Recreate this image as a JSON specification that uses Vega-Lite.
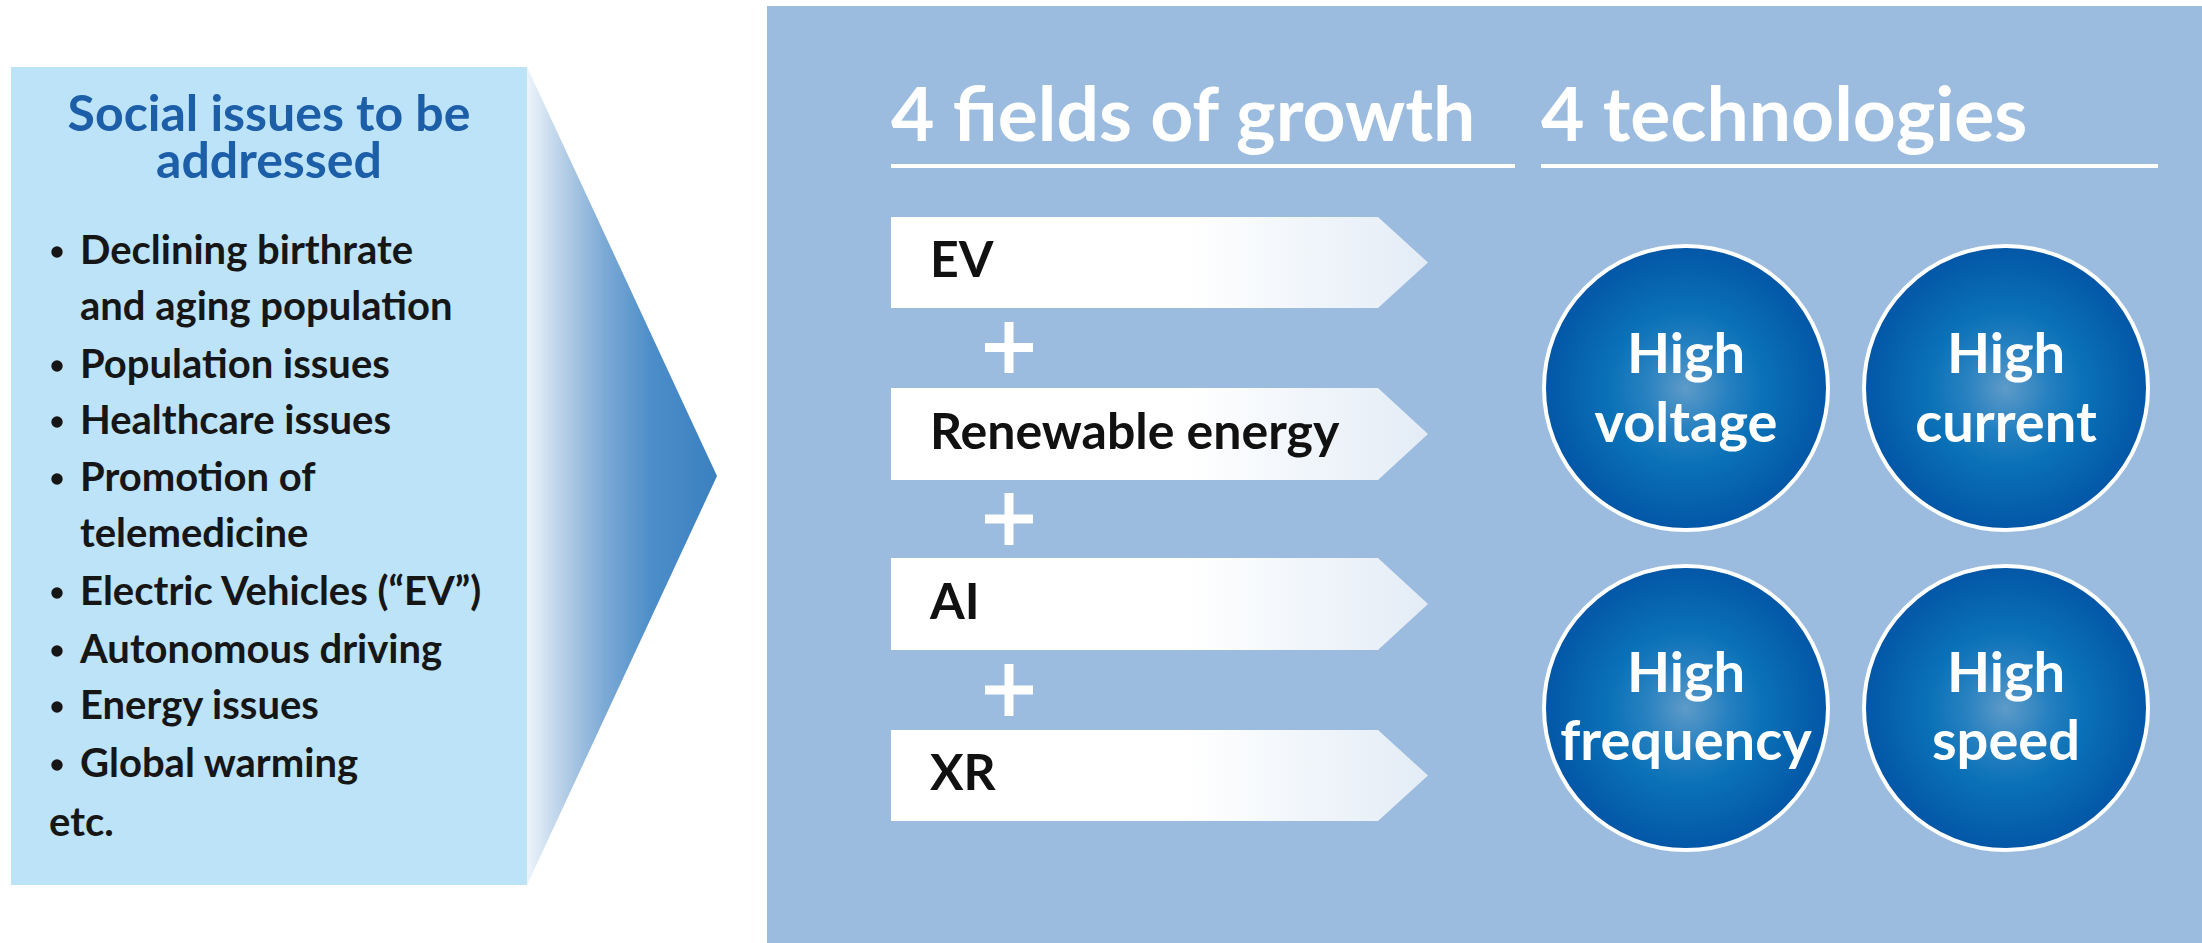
{
  "$schema": "https://vega.github.io/schema/vega-lite/v6.json",
  "width": 2202,
  "height": 943,
  "autosize": {"type": "fit", "contains": "padding"},
  "padding": 0,
  "background": "white",
  "config": {"view": {"stroke": null}, "text": {"font": "Lato", "fontWeight": "bold", "baseline": "alphabetic"}},
  "layer": [
    {
      "data": {"values": [{"part": "panel", "x": 767, "x2": 2202, "y": 6, "y2": 943}]},
      "mark": {"type": "rect", "color": "#9bbcde"},
      "encoding": {
        "x": {"field": "x", "type": "quantitative", "scale": {"domain": [0, 2202], "nice": false, "zero": false}, "axis": null},
        "x2": {"field": "x2"},
        "y": {"field": "y", "type": "quantitative", "scale": {"domain": [0, 943], "nice": false, "zero": false, "reverse": true}, "axis": null},
        "y2": {"field": "y2"}
      }
    },
    {
      "data": {"values": [{"part": "issues box", "x": 11, "x2": 527, "y": 67, "y2": 885}]},
      "mark": {"type": "rect", "color": "#bde3f8"},
      "encoding": {
        "x": {"field": "x", "type": "quantitative", "axis": null},
        "x2": {"field": "x2"},
        "y": {"field": "y", "type": "quantitative", "axis": null},
        "y2": {"field": "y2"}
      }
    },
    {
      "data": {"values": [
        {"part": "arrow", "x": 527, "y": 67, "y2": 885},
        {"part": "arrow", "x": 717, "y": 476, "y2": 476}
      ]},
      "mark": {"type": "area", "orient": "vertical", "opacity": 1, "fill": {"gradient": "linear", "x1": 0, "y1": 0, "x2": 1, "y2": 0, "stops": [
        {"offset": 0, "color": "#eef4fb"},
        {"offset": 0.2, "color": "#b3cde6"},
        {"offset": 0.4, "color": "#7eabd6"},
        {"offset": 0.65, "color": "#4d8ec9"},
        {"offset": 1, "color": "#3a80c0"}
      ]}},
      "encoding": {
        "x": {"field": "x", "type": "quantitative", "axis": null},
        "y": {"field": "y", "type": "quantitative", "axis": null},
        "y2": {"field": "y2"}
      }
    },
    {
      "data": {"values": [
        {"box": "EV", "x": 891, "y": 217, "y2": 308},
        {"box": "EV", "x": 1378, "y": 217, "y2": 308},
        {"box": "EV", "x": 1428, "y": 262.5, "y2": 262.5},
        {"box": "Renewable energy", "x": 891, "y": 388, "y2": 480},
        {"box": "Renewable energy", "x": 1378, "y": 388, "y2": 480},
        {"box": "Renewable energy", "x": 1428, "y": 434, "y2": 434},
        {"box": "AI", "x": 891, "y": 558, "y2": 650},
        {"box": "AI", "x": 1378, "y": 558, "y2": 650},
        {"box": "AI", "x": 1428, "y": 604, "y2": 604},
        {"box": "XR", "x": 891, "y": 730, "y2": 821},
        {"box": "XR", "x": 1378, "y": 730, "y2": 821},
        {"box": "XR", "x": 1428, "y": 775.5, "y2": 775.5}
      ]},
      "mark": {"type": "area", "orient": "vertical", "opacity": 1, "fill": {"gradient": "linear", "x1": 0, "y1": 0, "x2": 1, "y2": 0, "stops": [
        {"offset": 0, "color": "#ffffff"},
        {"offset": 0.55, "color": "#ffffff"},
        {"offset": 1, "color": "#e3ecf6"}
      ]}},
      "encoding": {
        "x": {"field": "x", "type": "quantitative", "axis": null},
        "y": {"field": "y", "type": "quantitative", "axis": null},
        "y2": {"field": "y2"},
        "detail": {"field": "box", "type": "nominal"}
      }
    },
    {
      "data": {"values": [
        {"seg": "plus1 v", "x": 1009, "x2": 1009, "y": 322, "y2": 373},
        {"seg": "plus1 h", "x": 985, "x2": 1033, "y": 347.5, "y2": 347.5},
        {"seg": "plus2 v", "x": 1009, "x2": 1009, "y": 493, "y2": 545},
        {"seg": "plus2 h", "x": 985, "x2": 1033, "y": 519, "y2": 519},
        {"seg": "plus3 v", "x": 1009, "x2": 1009, "y": 664, "y2": 716},
        {"seg": "plus3 h", "x": 985, "x2": 1033, "y": 690, "y2": 690}
      ]},
      "mark": {"type": "rule", "color": "white", "strokeWidth": 9},
      "encoding": {
        "x": {"field": "x", "type": "quantitative", "axis": null},
        "x2": {"field": "x2"},
        "y": {"field": "y", "type": "quantitative", "axis": null},
        "y2": {"field": "y2"}
      }
    },
    {
      "data": {"values": [
        {"seg": "underline fields", "x": 891, "x2": 1515, "y": 166, "y2": 166},
        {"seg": "underline technologies", "x": 1541, "x2": 2158, "y": 166, "y2": 166}
      ]},
      "mark": {"type": "rule", "color": "white", "strokeWidth": 4},
      "encoding": {
        "x": {"field": "x", "type": "quantitative", "axis": null},
        "x2": {"field": "x2"},
        "y": {"field": "y", "type": "quantitative", "axis": null},
        "y2": {"field": "y2"}
      }
    },
    {
      "data": {"values": [
        {"tech": "High voltage", "x": 1686, "y": 388},
        {"tech": "High current", "x": 2006, "y": 388},
        {"tech": "High frequency", "x": 1686, "y": 708},
        {"tech": "High speed", "x": 2006, "y": 708}
      ]},
      "mark": {"type": "point", "shape": "circle", "filled": true, "opacity": 1, "size": 80656, "stroke": "white", "strokeWidth": 4, "strokeOpacity": 1,
        "fill": {"gradient": "radial", "x1": 0.5, "y1": 0.5, "r1": 0, "x2": 0.5, "y2": 0.5, "r2": 0.5, "stops": [
          {"offset": 0, "color": "#5e9bc8"},
          {"offset": 0.3, "color": "#2680c0"},
          {"offset": 0.55, "color": "#0a71b7"},
          {"offset": 1, "color": "#0356a6"}
        ]}},
      "encoding": {
        "x": {"field": "x", "type": "quantitative", "axis": null},
        "y": {"field": "y", "type": "quantitative", "axis": null}
      }
    },
    {
      "data": {"values": [
        {"t": "4 fields of growth", "x": 891, "y": 141},
        {"t": "4 technologies", "x": 1541, "y": 141}
      ]},
      "mark": {"type": "text", "align": "left", "fontSize": 75, "color": "white"},
      "encoding": {
        "x": {"field": "x", "type": "quantitative", "axis": null},
        "y": {"field": "y", "type": "quantitative", "axis": null},
        "text": {"field": "t"}
      }
    },
    {
      "data": {"values": [
        {"t": "EV", "x": 930, "y": 277},
        {"t": "Renewable energy", "x": 930, "y": 448.5},
        {"t": "AI", "x": 930, "y": 619},
        {"t": "XR", "x": 930, "y": 790}
      ]},
      "mark": {"type": "text", "align": "left", "fontSize": 50, "color": "#111111"},
      "encoding": {
        "x": {"field": "x", "type": "quantitative", "axis": null},
        "y": {"field": "y", "type": "quantitative", "axis": null},
        "text": {"field": "t"}
      }
    },
    {
      "data": {"values": [
        {"t": "High", "x": 1686, "y": 373},
        {"t": "voltage", "x": 1686, "y": 442},
        {"t": "High", "x": 2006, "y": 373},
        {"t": "current", "x": 2006, "y": 442},
        {"t": "High", "x": 1686, "y": 692},
        {"t": "frequency", "x": 1686, "y": 760},
        {"t": "High", "x": 2006, "y": 692},
        {"t": "speed", "x": 2006, "y": 760}
      ]},
      "mark": {"type": "text", "align": "center", "fontSize": 56, "color": "white"},
      "encoding": {
        "x": {"field": "x", "type": "quantitative", "axis": null},
        "y": {"field": "y", "type": "quantitative", "axis": null},
        "text": {"field": "t"}
      }
    },
    {
      "data": {"values": [
        {"t": "Social issues to be\naddressed", "x": 269, "y": 131}
      ]},
      "mark": {"type": "text", "align": "center", "fontSize": 50, "lineBreak": "\n", "lineHeight": 47, "color": "#1d5ea9"},
      "encoding": {
        "x": {"field": "x", "type": "quantitative", "axis": null},
        "y": {"field": "y", "type": "quantitative", "axis": null},
        "text": {"field": "t"}
      }
    },
    {
      "data": {"values": [
        {"t": "Declining birthrate", "bullet": true, "x": 80, "y": 264},
        {"t": "and aging population", "bullet": false, "x": 80, "y": 320},
        {"t": "Population issues", "bullet": true, "x": 80, "y": 378},
        {"t": "Healthcare issues", "bullet": true, "x": 80, "y": 434},
        {"t": "Promotion of", "bullet": true, "x": 80, "y": 491},
        {"t": "telemedicine", "bullet": false, "x": 80, "y": 547},
        {"t": "Electric Vehicles (“EV”)", "bullet": true, "x": 80, "y": 605},
        {"t": "Autonomous driving", "bullet": true, "x": 80, "y": 663},
        {"t": "Energy issues", "bullet": true, "x": 80, "y": 719},
        {"t": "Global warming", "bullet": true, "x": 80, "y": 777},
        {"t": "etc.", "bullet": false, "x": 49, "y": 836}
      ]},
      "layer": [
        {
          "mark": {"type": "text", "align": "left", "fontSize": 40, "color": "#161616"},
          "encoding": {
            "x": {"field": "x", "type": "quantitative", "axis": null},
            "y": {"field": "y", "type": "quantitative", "axis": null},
            "text": {"field": "t"}
          }
        },
        {
          "transform": [{"filter": "datum.bullet"}],
          "mark": {"type": "point", "shape": "circle", "filled": true, "opacity": 1, "size": 130, "color": "#161616", "xOffset": -23, "yOffset": -12},
          "encoding": {
            "x": {"field": "x", "type": "quantitative", "axis": null},
            "y": {"field": "y", "type": "quantitative", "axis": null}
          }
        }
      ]
    }
  ]
}
